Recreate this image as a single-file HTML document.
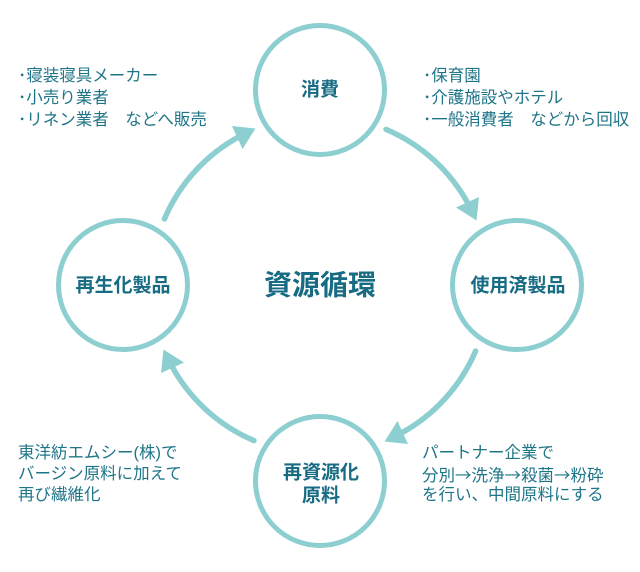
<!DOCTYPE html>
<html><head><meta charset="utf-8"><style>
html,body{margin:0;padding:0;background:#fff;}
svg{display:block;}
text{font-family:"Liberation Sans","Noto Sans CJK JP",sans-serif;}
.side{font-size:16.5px;fill:#1f7588;}
.lbl{font-size:19px;font-weight:bold;fill:#176b82;}
.cjk{font-family:"Noto Sans CJK JP",sans-serif;}
</style></head><body>
<svg width="640" height="572" viewBox="0 0 640 572" xmlns="http://www.w3.org/2000/svg">
<rect width="640" height="572" fill="#fff"/>
<g fill="none" stroke="#8dcfd1" stroke-width="5">
<circle cx="320" cy="90" r="64.5"/>
<circle cx="517" cy="285" r="64.5"/>
<circle cx="320" cy="481" r="64.5"/>
<circle cx="123" cy="285" r="64.5"/>
</g>
<defs>
<g id="arr">
<path d="M386,129.4 A169,169 0 0 1 469.2,205.7" fill="none" stroke="#8dcfd1" stroke-width="5.5" stroke-linecap="round"/>
<polygon points="476.5,220.5 456,207.5 479,197" fill="#8dcfd1"/>
</g>
</defs>
<use href="#arr"/>
<use href="#arr" transform="rotate(90 320 285)"/>
<use href="#arr" transform="rotate(180 320 285)"/>
<use href="#arr" transform="rotate(270 320 285)"/>

<text class="lbl" x="320" y="90" text-anchor="middle" dominant-baseline="central">消費</text>
<text class="lbl" x="518" y="286" text-anchor="middle" dominant-baseline="central">使用済製品</text>
<text class="lbl" x="123" y="286" text-anchor="middle" dominant-baseline="central">再生化製品</text>
<text class="lbl" x="321" y="473" text-anchor="middle" dominant-baseline="central">再資源化</text>
<text class="lbl" x="321" y="496" text-anchor="middle" dominant-baseline="central">原料</text>
<text x="320" y="285" text-anchor="middle" dominant-baseline="central" style="font-size:28px;font-weight:bold;fill:#176b82;">資源循環</text>

<g class="side" dominant-baseline="central">
<text x="18" y="76">･寝装寝具メーカー</text>
<text x="18" y="98">･小売り業者</text>
<text x="18" y="120">･リネン業者　などへ販売</text>
<text x="423" y="76">･保育園</text>
<text x="423" y="98">･介護施設やホテル</text>
<text x="423" y="120">･一般消費者　などから回収</text>
<text x="18" y="453">東洋紡エムシー(株)で</text>
<text x="18" y="474">バージン原料に加えて</text>
<text x="18" y="495">再び繊維化</text>
<text x="422" y="453">パートナー企業で</text>
<text x="422" y="474" class="cjk">分別→洗浄→殺菌→粉砕</text>
<text x="422" y="495">を行い、中間原料にする</text>
</g>
</svg>
</body></html>
